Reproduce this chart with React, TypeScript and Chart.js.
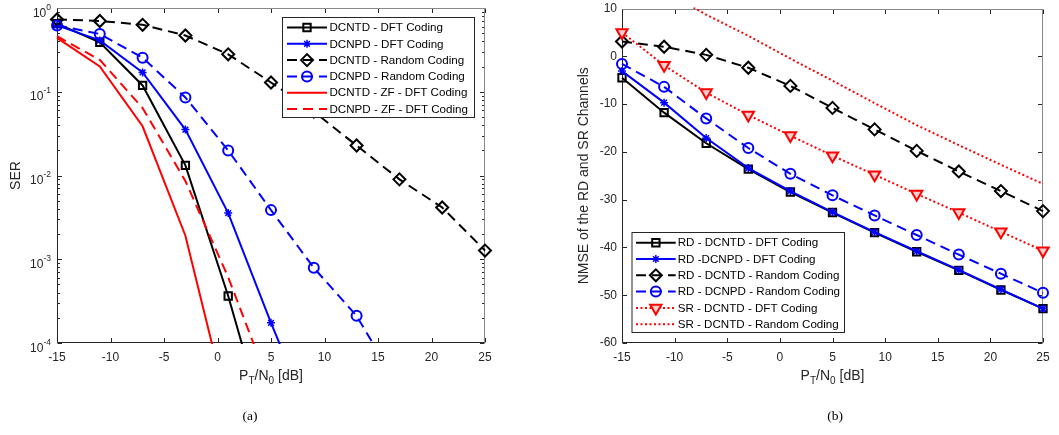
import React, { useEffect, useRef } from 'react';
import { Chart, registerables } from 'chart.js';
import { drawPoint } from 'chart.js/helpers';

Chart.register(...registerables);

const FONT = '"Liberation Sans", Arial, Helvetica, sans-serif';
const SERIF = '"Liberation Serif", "Times New Roman", serif';
const AXIS = '#262626';

// ---------- data ----------
const xValues = [-15, -11, -7, -3, 1, 5, 9, 13, 17, 21, 25];
const xTicks = [-15, -10, -5, 0, 5, 10, 15, 20, 25];

// (a) SER
const serExponents = [0, -1, -2, -3, -4];
const serDcntdDft = [0.65, 0.39, 0.119, 0.0132, 3.64e-4, 6e-6, null, null, null, null, null];
const serDcnpdDft = [0.62, 0.41, 0.17, 0.0353, 3.56e-3, 1.74e-4, 1e-5, null, null, null, null];
const serDcntdRandom = [0.73, 0.70, 0.63, 0.47, 0.28, 0.129, 0.058, 0.0228, 9.0e-3, 4.15e-3, 1.27e-3];
const serDcnpdRandom = [0.62, 0.49, 0.255, 0.0855, 0.0199, 3.86e-3, 7.9e-4, 2.11e-4, 2.9e-5, null, null];
const serDcntdZfDft = [0.44, 0.20, 0.0387, 1.91e-3, 1.6e-5, null, null, null, null, null, null];
const serDcnpdZfDft = [0.46, 0.24, 0.064, 8.6e-3, 6.1e-4, 2.8e-5, null, null, null, null, null];

// (b) NMSE
const nmseTicks = [-60, -50, -40, -30, -20, -10, 0, 10];
const rdDcntdDft = [-4.5, -11.8, -18.2, -23.6, -28.4, -32.7, -36.9, -40.9, -44.8, -48.9, -52.8];
const rdDcnpdDft = [-3.1, -9.7, -17.1, -23.4, -28.2, -32.6, -36.8, -40.8, -44.7, -48.8, -52.8];
const rdDcntdRandom = [3.1, 2.0, 0.3, -2.4, -6.2, -10.8, -15.3, -19.8, -24.1, -28.2, -32.4];
const rdDcnpdRandom = [-1.6, -6.4, -13.0, -19.2, -24.6, -29.1, -33.3, -37.4, -41.5, -45.5, -49.5];
const srDcntdDft = [5.0, -1.9, -7.6, -12.3, -16.6, -20.8, -24.8, -28.8, -32.7, -36.7, -40.7];
const srDcntdRandom = [20.0, 13.8, 8.7, 4.3, -0.5, -5.1, -9.8, -14.4, -18.6, -22.7, -26.7];

// ---------- styles ----------
const BLACK = '#000000';
const BLUE = '#0000ff';
const RED = '#ff0000';
const DASH = [10, 6];
const DOT = [2, 2.5];
const TICK_SIZE = 12;
const LABEL_SIZE = 14;

function series(label: string, values: (number | null)[], style: any) {
  const data = xValues
    .map((x, i) => (values[i] == null ? null : { x, y: values[i] as number }))
    .filter((p) => p !== null);
  return {
    label,
    data,
    borderWidth: 2,
    pointBorderWidth: 2,
    pointBackgroundColor: 'rgba(0,0,0,0)',
    pointRadius: 0,
    pointHoverRadius: 0,
    tension: 0,
    clip: { left: 12, right: 12, top: 1, bottom: 1 },
    ...style,
    pointBorderColor: style.borderColor,
  };
}

const sqStyle = { borderColor: BLACK, pointStyle: 'rect', pointRadius: 5.2 };
const starStyle = { borderColor: BLUE, pointStyle: 'star', pointRadius: 4, pointBorderWidth: 1.5 };
const diaStyle = { borderColor: BLACK, borderDash: DASH, pointStyle: 'rectRot', pointRadius: 6 };
const circStyle = { borderColor: BLUE, borderDash: DASH, pointStyle: 'circle', pointRadius: 5 };

// ---------- plugins ----------
const framePlugin = {
  id: 'frame',
  beforeDatasetsDraw(chart: any, _a: any, opts: any) {
    const { ctx, chartArea: a, scales } = chart;
    const L = Math.round(a.left) + 0.5;
    const R = Math.round(a.right) - 0.5;
    const T = Math.round(a.top) + 0.5;
    const B = Math.round(a.bottom) - 0.5;
    ctx.save();
    ctx.lineWidth = 1;
    ctx.strokeStyle = AXIS;
    ctx.beginPath();
    const xs = scales.x;
    xTicks.forEach((v) => {
      const px = Math.round(xs.getPixelForValue(v)) + 0.5;
      ctx.moveTo(px, B);
      ctx.lineTo(px, B - 4.5);
      ctx.moveTo(px, T);
      ctx.lineTo(px, T + 4.5);
    });
    const ys = scales.y;
    const ticks: number[] = opts.majorY || [];
    ticks.forEach((v) => {
      const py = Math.round(ys.getPixelForValue(v)) + 0.5;
      ctx.moveTo(L, py);
      ctx.lineTo(L + 4.5, py);
      ctx.moveTo(R, py);
      ctx.lineTo(R - 4.5, py);
    });
    const minor: number[] = opts.minorY || [];
    minor.forEach((v) => {
      const py = Math.round(ys.getPixelForValue(v)) + 0.5;
      ctx.moveTo(L, py);
      ctx.lineTo(L + 2.5, py);
      ctx.moveTo(R, py);
      ctx.lineTo(R - 2.5, py);
    });
    ctx.stroke();
    ctx.strokeStyle = '#8a8a8a';
    ctx.beginPath();
    ctx.moveTo(L, T);
    ctx.lineTo(R, T);
    ctx.lineTo(R, B);
    ctx.stroke();
    ctx.strokeStyle = AXIS;
    ctx.beginPath();
    ctx.moveTo(L, T);
    ctx.lineTo(L, B);
    ctx.lineTo(R, B);
    ctx.stroke();
    ctx.restore();
  },
};

const legendPlugin = {
  id: 'boxLegend',
  afterDatasetsDraw(chart: any, _a: any, opts: any) {
    const { ctx } = chart;
    const { box, row0, step, line0, line1, textX } = opts;
    ctx.save();
    ctx.fillStyle = '#ffffff';
    ctx.fillRect(box[0], box[1], box[2] - box[0], box[3] - box[1]);
    ctx.strokeStyle = AXIS;
    ctx.lineWidth = 1;
    ctx.strokeRect(box[0] + 0.5, box[1] + 0.5, box[2] - box[0] - 1, box[3] - box[1] - 1);
    chart.data.datasets.forEach((ds: any, i: number) => {
      const y = row0 + i * step;
      ctx.save();
      ctx.strokeStyle = ds.borderColor;
      ctx.lineWidth = ds.borderWidth;
      ctx.setLineDash(ds.borderDash || []);
      ctx.beginPath();
      ctx.moveTo(line0, y);
      ctx.lineTo(line1, y);
      ctx.stroke();
      ctx.restore();
      if (ds.pointRadius > 0) {
        ctx.save();
        ctx.setLineDash([]);
        ctx.strokeStyle = ds.pointBorderColor;
        ctx.fillStyle = ds.pointBackgroundColor;
        ctx.lineWidth = ds.pointBorderWidth;
        drawPoint(
          ctx,
          {
            pointStyle: ds.pointStyle,
            radius: ds.pointRadius,
            rotation: ds.pointRotation || 0,
            borderWidth: ds.pointBorderWidth,
          } as any,
          (line0 + line1) / 2,
          y
        );
        ctx.restore();
      }
      ctx.fillStyle = '#000000';
      ctx.font = `11.6px ${FONT}`;
      ctx.textAlign = 'left';
      ctx.textBaseline = 'middle';
      ctx.fillText(ds.label, textX, y + 0.5);
    });
    ctx.restore();
  },
};

const textPlugin = {
  id: 'texts',
  afterDraw(chart: any, _a: any, opts: any) {
    const { ctx, chartArea: a, scales } = chart;
    ctx.save();
    ctx.fillStyle = AXIS;
    if (opts.powerTicks) {
      const ys = scales.y;
      opts.powerTicks.forEach((exp: number) => {
        const py = ys.getPixelForValue(Math.pow(10, exp));
        const right = a.left - 6;
        ctx.font = `8.5px ${FONT}`;
        const sup = String(exp);
        const sw = ctx.measureText(sup).width;
        ctx.textAlign = 'left';
        ctx.textBaseline = 'alphabetic';
        ctx.fillText(sup, right - sw, py + 1.5);
        ctx.font = `${TICK_SIZE}px ${FONT}`;
        ctx.textAlign = 'right';
        ctx.fillText('10', right - sw, py + 8.5);
      });
    }
    // y title
    ctx.save();
    ctx.translate(opts.yTitleX, (a.top + a.bottom) / 2);
    ctx.rotate(-Math.PI / 2);
    ctx.font = `${LABEL_SIZE}px ${FONT}`;
    ctx.textAlign = 'center';
    ctx.textBaseline = 'middle';
    ctx.fillText(opts.yTitle, 0, 0);
    ctx.restore();
    // x title with subscripts
    const parts: { t: string; sub?: boolean }[] = opts.xTitle;
    const mainFont = `${LABEL_SIZE}px ${FONT}`;
    const subFont = `10px ${FONT}`;
    let total = 0;
    parts.forEach((p) => {
      ctx.font = p.sub ? subFont : mainFont;
      total += ctx.measureText(p.t).width;
    });
    let x = (a.left + a.right) / 2 - total / 2;
    const base = opts.xTitleY;
    ctx.textAlign = 'left';
    ctx.textBaseline = 'alphabetic';
    parts.forEach((p) => {
      ctx.font = p.sub ? subFont : mainFont;
      ctx.fillText(p.t, x, p.sub ? base + 4 : base);
      x += ctx.measureText(p.t).width;
    });
    // panel caption
    ctx.fillStyle = '#000000';
    ctx.font = `13.5px ${SERIF}`;
    ctx.textAlign = 'center';
    ctx.fillText(opts.panel, opts.panelX, opts.panelY);
    ctx.restore();
  },
};

const xTitleParts = [{ t: 'P' }, { t: 'T', sub: true }, { t: '/N' }, { t: '0', sub: true }, { t: ' [dB]' }];

function xScale() {
  return {
    type: 'linear',
    min: -15,
    max: 25,
    afterBuildTicks: (s: any) => {
      s.ticks = xTicks.map((v) => ({ value: v }));
    },
    afterFit: (s: any) => {
      s.height = 92;
      s.paddingLeft = 0;
      s.paddingRight = 0;
    },
    grid: { display: false, drawTicks: false },
    border: { display: false },
    ticks: { color: AXIS, font: { family: FONT, size: TICK_SIZE }, padding: 7, maxRotation: 0, autoSkip: false },
  };
}

function serConfig(): any {
  const minor: number[] = [];
  for (let d = -4; d < 0; d++) for (let k = 2; k <= 9; k++) minor.push(k * Math.pow(10, d));
  return {
    type: 'line',
    data: {
      datasets: [
        series('DCNTD - DFT Coding', serDcntdDft, sqStyle),
        series('DCNPD - DFT Coding', serDcnpdDft, starStyle),
        series('DCNTD - Random Coding', serDcntdRandom, diaStyle),
        series('DCNPD - Random Coding', serDcnpdRandom, circStyle),
        series('DCNTD - ZF - DFT Coding', serDcntdZfDft, { borderColor: RED }),
        series('DCNPD - ZF - DFT Coding', serDcnpdZfDft, { borderColor: RED, borderDash: DASH }),
      ].map((d, i) => ({ ...d, order: -i })),
    },
    options: {
      responsive: false,
      animation: false,
      events: [],
      layout: { padding: { left: 0, right: 45, top: 6, bottom: 0 } },
      scales: {
        x: xScale(),
        y: {
          type: 'logarithmic',
          min: 1e-4,
          max: 1,
          afterBuildTicks: (s: any) => {
            s.ticks = serExponents.map((e) => ({ value: Math.pow(10, e) }));
          },
          afterFit: (s: any) => {
            s.width = 57;
            s.paddingTop = 0;
            s.paddingBottom = 0;
          },
          grid: { display: false, drawTicks: false },
          border: { display: false },
          ticks: { display: false },
        },
      },
      plugins: {
        legend: { display: false },
        tooltip: { enabled: false },
        frame: { majorY: serExponents.map((e) => Math.pow(10, e)), minorY: minor },
        boxLegend: { box: [282, 17, 475, 118], row0: 27.5, step: 16.3, line0: 287, line1: 327, textX: 329.5 },
        texts: {
          powerTicks: serExponents,
          yTitle: 'SER',
          yTitleX: 16,
          xTitle: xTitleParts,
          xTitleY: 380,
          panel: '(a)',
          panelX: 250,
          panelY: 420,
        },
      },
    },
    plugins: [framePlugin, legendPlugin, textPlugin],
  };
}

function nmseConfig(): any {
  return {
    type: 'line',
    data: {
      datasets: [
        series('RD - DCNTD - DFT Coding', rdDcntdDft, sqStyle),
        series('RD -DCNPD - DFT Coding', rdDcnpdDft, starStyle),
        series('RD - DCNTD - Random Coding', rdDcntdRandom, diaStyle),
        series('RD - DCNPD - Random Coding', rdDcnpdRandom, circStyle),
        series('SR - DCNTD - DFT Coding', srDcntdDft, {
          borderColor: RED,
          borderDash: DOT,
          pointStyle: 'triangle',
          pointRotation: 180,
          pointRadius: 6.5,
          pointBackgroundColor: '#ffd0d0',
        }),
        series('SR - DCNTD - Random Coding', srDcntdRandom, { borderColor: RED, borderDash: DOT }),
      ].map((d, i) => ({ ...d, order: -i })),
    },
    options: {
      responsive: false,
      animation: false,
      events: [],
      layout: { padding: { left: 0, right: 16, top: 6, bottom: 0 } },
      scales: {
        x: xScale(),
        y: {
          type: 'linear',
          min: -60,
          max: 10,
          afterBuildTicks: (s: any) => {
            s.ticks = nmseTicks.map((v) => ({ value: v }));
          },
          afterFit: (s: any) => {
            s.width = 92;
            s.paddingTop = 0;
            s.paddingBottom = 0;
          },
          grid: { display: false, drawTicks: false },
          border: { display: false },
          ticks: { color: AXIS, font: { family: FONT, size: TICK_SIZE }, padding: 5 },
        },
      },
      plugins: {
        legend: { display: false },
        tooltip: { enabled: false },
        frame: { majorY: nmseTicks, minorY: [] },
        boxLegend: { box: [101.5, 232, 315, 333], row0: 242.7, step: 16.3, line0: 106, line1: 145.7, textX: 147.7 },
        texts: {
          yTitle: 'NMSE of the RD and SR Channels',
          yTitleX: 54,
          xTitle: xTitleParts,
          xTitleY: 380,
          panel: '(b)',
          panelX: 305,
          panelY: 420,
        },
      },
    },
    plugins: [framePlugin, legendPlugin, textPlugin],
  };
}

function ChartCanvas({ make, left, width }: { make: () => any; left: number; width: number }) {
  const ref = useRef<HTMLCanvasElement>(null);
  useEffect(() => {
    const chart = new Chart(ref.current as HTMLCanvasElement, make());
    return () => chart.destroy();
  }, []);
  return (
    <canvas
      ref={ref}
      width={width}
      height={435}
      style={{ position: 'absolute', left, top: 0, width, height: 435 }}
    />
  );
}

export default function App() {
  return (
    <div style={{ position: 'absolute', left: 0, top: 0, width: 1059, height: 435, background: '#ffffff' }}>
      <ChartCanvas make={serConfig} left={0} width={530} />
      <ChartCanvas make={nmseConfig} left={530} width={529} />
    </div>
  );
}
